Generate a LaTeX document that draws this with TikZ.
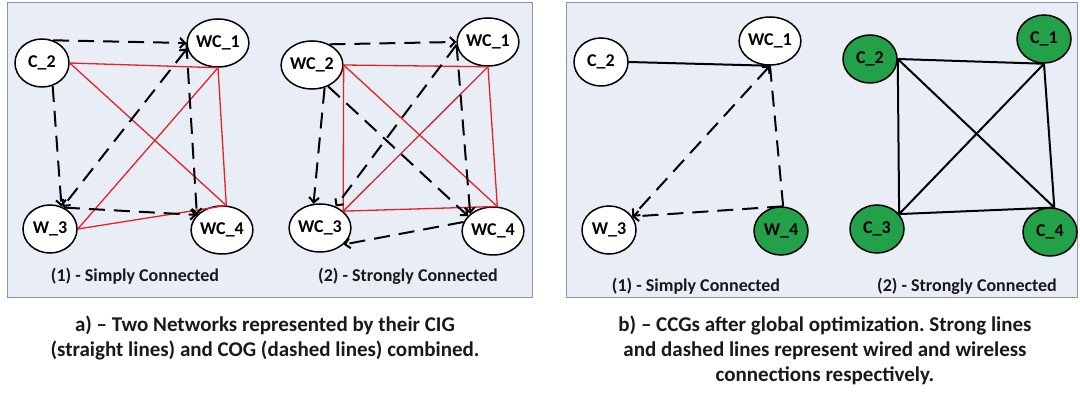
\documentclass[tikz,border=0pt]{standalone}
\usepackage{fontspec}
\setmainfont{Carlito}
\usetikzlibrary{shapes.geometric,arrows.meta}
\definecolor{panelfill}{RGB}{233,237,246}
\definecolor{paneledge}{RGB}{140,150,165}
\definecolor{cigred}{RGB}{228,34,40}
\definecolor{ccggreen}{RGB}{34,161,72}
\tikzset{
  panel/.style={draw=paneledge,fill=panelfill,line width=1pt},
  dev/.style={ellipse,draw=black,line width=1.5pt,fill=white,minimum width=54pt,
    minimum height=48pt,inner sep=0pt,font=\fontsize{18}{20}\selectfont\bfseries},
  devon/.style={dev,fill=ccggreen},
  cig/.style={draw=cigred,line width=1.3pt},
  cog/.style={draw=black,line width=2pt,dash pattern=on 16pt off 9pt},
  wired/.style={draw=black,line width=2pt},
  tip/.style={-{Straight Barb[length=5pt,width=10pt]}},
  tips/.style={{Straight Barb[length=5pt,width=10pt]}-{Straight Barb[length=5pt,width=10pt]}},
  sublabel/.style={font=\fontsize{18}{20}\selectfont\bfseries,text=black!90},
  caption/.style={font=\fontsize{21}{25}\selectfont\bfseries,align=center,text=black!90}
}
\frenchspacing
\begin{document}
\begin{tikzpicture}[x=1pt,y=-1pt]
\useasboundingbox (0,0) rectangle (1080,395);
\fill[white] (0,0) rectangle (1080,395);
% panels
\draw[panel] (7,3) rectangle (532,298);
\draw[panel] (566,3) rectangle (1077,298);

% ---- a(1): simply connected, CIG + COG
\node[dev] (c2a) at (42,63) {C\_2};
\node[dev] (wc1a) at (218,43) {WC\_1};
\node[dev] (w3a) at (50,229) {W\_3};
\node[dev] (wc4a) at (222,230) {WC\_4};
\draw[cig] (c2a.east) -- (wc1a.south);
\draw[cig] (c2a.east) -- (wc4a.80);
\draw[cig] (wc1a.south) -- (wc4a.80);
\draw[cig] (wc1a.south) -- (w3a.east);
\draw[cig] (w3a.east) -- (wc4a.80);
\draw[cog,tip] (c2a.64) -- (wc1a.west);
\draw[cog,tip] (c2a.295) -- (w3a.63);
\draw[cog,tips] (wc1a.190) -- (w3a.60);
\draw[cog,tip] (wc1a.west) -- (wc4a.149);
\draw[cog,tip] (w3a.57) -- (wc4a.149);
\node[sublabel] (la1) at (135,276) {(1) - Simply Connected};

% ---- a(2): strongly connected, CIG + COG
\node[dev] (wc2b) at (312,65) {WC\_2};
\node[dev] (wc1b) at (488,42) {WC\_1};
\node[dev] (wc3b) at (320,228) {WC\_3};
\node[dev] (wc4b) at (493,231) {WC\_4};
\draw[cig] (wc2b.east) -- (wc1b.south);
\draw[cig] (wc2b.east) -- (wc3b.36);
\draw[cig] (wc2b.east) -- (wc4b.80);
\draw[cig] (wc1b.south) -- (wc3b.36);
\draw[cig] (wc1b.south) -- (wc4b.80);
\draw[cig] (wc3b.36) -- (wc4b.80);
\draw[cog,tip] (wc2b.50) -- (wc1b.west);
\draw[cog,tip] (wc2b.299) -- (wc3b.105);
\draw[cog,tip] (wc2b.-53) -- (wc4b.149);
\draw[cog,tip] (wc1b.185) -- (wc3b.54);
\draw[cog,tip] (wc1b.185) -- (wc4b.143);
\draw[cog,tip] (wc4b.163) -- (wc3b.-35);
\node[sublabel] (la2) at (408,276) {(2) - Strongly Connected};

% ---- b(1): simply connected CCG
\node[dev] (c2c) at (601,62) {C\_2};
\node[dev] (wc1c) at (770,41) {WC\_1};
\node[dev] (w3c) at (609,230) {W\_3};
\node[devon] (w4c) at (781,231) {W\_4};
\draw[wired] (c2c.east) -- (wc1c.south);
\draw[cog,tips] (wc1c.south) -- (w3c.30);
\draw[cog] (wc1c.south) -- (w4c.85);
\draw[cog,tip] (w4c.85) -- (w3c.30);
\node[sublabel] (lb1) at (696,286) {(1) - Simply Connected};

% ---- b(2): strongly connected CCG
\node[devon] (c2d) at (870,59) {C\_2};
\node[devon] (c1d) at (1044,39) {C\_1};
\node[devon] (c3d) at (877,229) {C\_3};
\node[devon] (c4d) at (1050,232) {C\_4};
\draw[wired] (c2d.east) -- (c1d.south);
\draw[wired] (c2d.east) -- (c3d.34);
\draw[wired] (c2d.east) -- (c4d.80);
\draw[wired] (c1d.south) -- (c3d.34);
\draw[wired] (c1d.south) -- (c4d.80);
\draw[wired] (c3d.34) -- (c4d.80);
\node[sublabel] (lb2) at (967,286) {(2) - Strongly Connected};

% ---- captions
\node[caption] (capa) at (265,337.5) {a) -- Two Networks represented by their CIG\\(straight lines) and COG (dashed lines) combined.};
\node[caption] (capb) at (825,350) {b) -- CCGs after global optimization. Strong lines\\and dashed lines represent wired and wireless\\connections respectively.};
\end{tikzpicture}
\end{document}
